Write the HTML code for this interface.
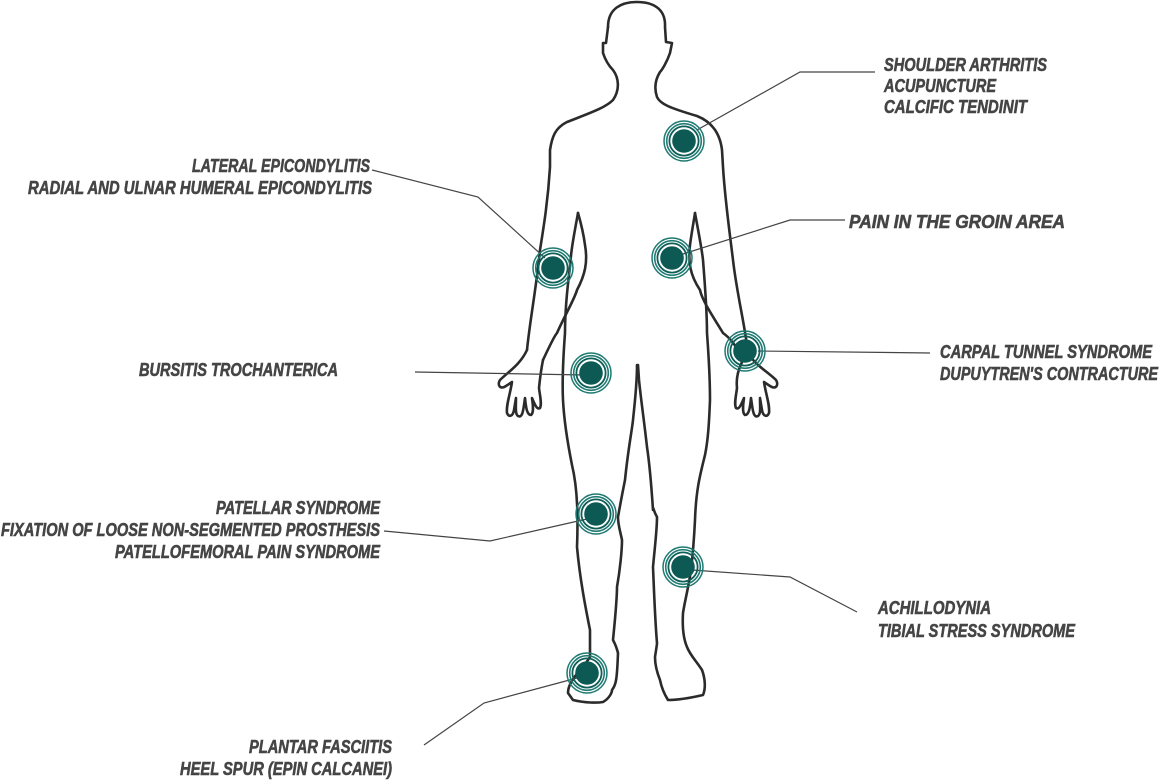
<!DOCTYPE html>
<html><head><meta charset="utf-8"><style>
html,body{margin:0;padding:0;background:#fff;width:1160px;height:780px;overflow:hidden}
svg text{font-family:"Liberation Sans Narrow","Liberation Sans",sans-serif;font-weight:bold;font-style:italic;font-size:18px;fill:#454545;stroke:#454545;stroke-width:0.6}
</style></head><body>
<svg width="1160" height="780" viewBox="0 0 1160 780" xmlns="http://www.w3.org/2000/svg">
<defs>
<g id="t">
<circle r="20" fill="none" stroke="#1f7a72" stroke-width="1.5"/>
<circle r="17.3" fill="none" stroke="#1f7a72" stroke-width="1.6"/>
<circle r="14.6" fill="none" stroke="#0f5f59" stroke-width="1.8"/>
<circle r="11.8" fill="#0d5a55"/>
</g>
</defs>
<g fill="none" stroke="#2b2b2b" stroke-width="2.6" stroke-linejoin="round" stroke-linecap="round">
<path d="M608,27 C608,8 622,2 637,2 C652,2 666,8 665,27 L666,42 L672,43 L670,53 C667,62 662,70 660,72 C655,80 654,88 657,97 C660,104 670,108 697,116 C712,122 720,133 722,150 L723,167 C725,200 730,235 733,260 C737,295 745,325 748,353"/>
<path d="M608,27 L606,43 L603,43 L603,53 C606,62 611,68 613,70 C619,78 620,90 613,100 C605,108 590,113 567,122 C555,128 552,137 550,150 L550,167 C548,200 544,225 540,250 C536,290 530,320 527,350"/>
<path d="M527,350 C520,365 508,372 500,380 C497,385 500,390 506,386 L512,382 C510,395 506,405 507,413 C509,418 513,416 514,410 L516,398 C516,407 515,414 518,416 C522,418 523,412 524,405 L525,398 C526,408 527,415 531,415 C534,413 533,405 532,398 C535,405 537,410 540,408 C542,404 540,396 539,388 C540,378 541,370 543,360"/>
<path d="M748,353 C755,365 768,372 776,380 C779,385 776,390 770,386 L764,382 C766,395 770,405 769,413 C767,418 763,416 762,410 L760,398 C760,407 761,414 758,416 C754,418 753,412 752,405 L751,398 C750,408 749,415 745,415 C742,413 743,405 744,398 C741,405 739,410 736,408 C734,404 736,396 737,388 C736,378 738,370 743,360"/>
<path d="M543,360 C550,345 555,335 557,333 C565,315 575,298 577,290 C585,275 588,262 585,245 C583,230 580,220 578,213"/>
<path d="M743,360 C736,345 730,338 723,333 C712,315 702,300 700,290 C690,275 688,262 690,245 C692,230 694,220 695,213"/>
<path d="M578,213 C574,235 571,250 570,267 C567,290 565,310 565,333 C563,360 562,380 563,400 C564,420 567,440 572,465 C578,490 578,520 577,547 C580,580 586,610 590,630 L590,657 C582,670 568,680 568,693 L573,700 C585,703 597,703 603,702 C610,698 612,692 612,690 C616,685 617,680 618,653 C616,645 614,642 613,640 C615,620 617,600 617,587 C620,570 622,550 622,540 C620,530 618,525 618,517 C621,500 624,485 625,480 C628,450 632,430 633,420 C635,400 637,385 637,365"/>
<path d="M695,213 C699,235 702,250 703,260 C705,285 707,310 707,333 C709,360 710,380 710,400 C709,425 708,440 705,455 C700,475 696,490 695,520 C694,540 693,553 691,570 C688,590 685,600 683,613 C682,630 684,640 687,647 C690,655 697,662 702,670 C705,678 706,688 703,695 C690,698 678,700 668,700 C663,692 661,685 660,680 C656,670 655,662 655,657 C656,650 657,645 657,643 C655,620 654,590 653,567 C655,545 657,530 657,517 C653,510 653,505 653,510 C651,480 649,460 647,447 C644,420 641,400 639,380 L638,365"/>
</g>
<g fill="none" stroke="#444" stroke-width="1.2">
<polyline points="697,130 800,72 875,72"/>
<polyline points="372,170 478,197 545,258"/>
<polyline points="680,255 790,220 845,220"/>
<polyline points="758,351 930,353"/>
<polyline points="415,372 585,375"/>
<polyline points="384,531 490,541 587,519"/>
<polyline points="692,570 790,577 857,612"/>
<polyline points="424,745 484,703 577,678"/>
</g>
<use href="#t" x="684" y="141"/>
<use href="#t" x="553" y="268"/>
<use href="#t" x="672" y="258"/>
<use href="#t" x="745" y="351"/>
<use href="#t" x="591" y="373"/>
<use href="#t" x="596" y="514"/>
<use href="#t" x="683" y="567"/>
<use href="#t" x="587" y="673"/>
<text x="884" y="71" textLength="163" lengthAdjust="spacingAndGlyphs">SHOULDER ARTHRITIS</text>
<text x="884" y="92" textLength="112" lengthAdjust="spacingAndGlyphs">ACUPUNCTURE</text>
<text x="884" y="113" textLength="143" lengthAdjust="spacingAndGlyphs">CALCIFIC TENDINIT</text>
<text x="192" y="172" textLength="178" lengthAdjust="spacingAndGlyphs">LATERAL EPICONDYLITIS</text>
<text x="28" y="194" textLength="344" lengthAdjust="spacingAndGlyphs">RADIAL AND ULNAR HUMERAL EPICONDYLITIS</text>
<text x="849" y="228" textLength="216" lengthAdjust="spacingAndGlyphs">PAIN IN THE GROIN AREA</text>
<text x="139" y="376" textLength="199" lengthAdjust="spacingAndGlyphs">BURSITIS TROCHANTERICA</text>
<text x="940" y="358" textLength="212" lengthAdjust="spacingAndGlyphs">CARPAL TUNNEL SYNDROME</text>
<text x="940" y="380" textLength="218" lengthAdjust="spacingAndGlyphs">DUPUYTREN'S CONTRACTURE</text>
<text x="216" y="514" textLength="164" lengthAdjust="spacingAndGlyphs">PATELLAR SYNDROME</text>
<text x="1" y="536" textLength="379" lengthAdjust="spacingAndGlyphs">FIXATION OF LOOSE NON-SEGMENTED PROSTHESIS</text>
<text x="115" y="558" textLength="265" lengthAdjust="spacingAndGlyphs">PATELLOFEMORAL PAIN SYNDROME</text>
<text x="878" y="614" textLength="113" lengthAdjust="spacingAndGlyphs">ACHILLODYNIA</text>
<text x="878" y="637" textLength="197" lengthAdjust="spacingAndGlyphs">TIBIAL STRESS SYNDROME</text>
<text x="249" y="753" textLength="143" lengthAdjust="spacingAndGlyphs">PLANTAR FASCIITIS</text>
<text x="180" y="775" textLength="212" lengthAdjust="spacingAndGlyphs">HEEL SPUR (EPIN CALCANEI)</text>
</svg>
</body></html>
